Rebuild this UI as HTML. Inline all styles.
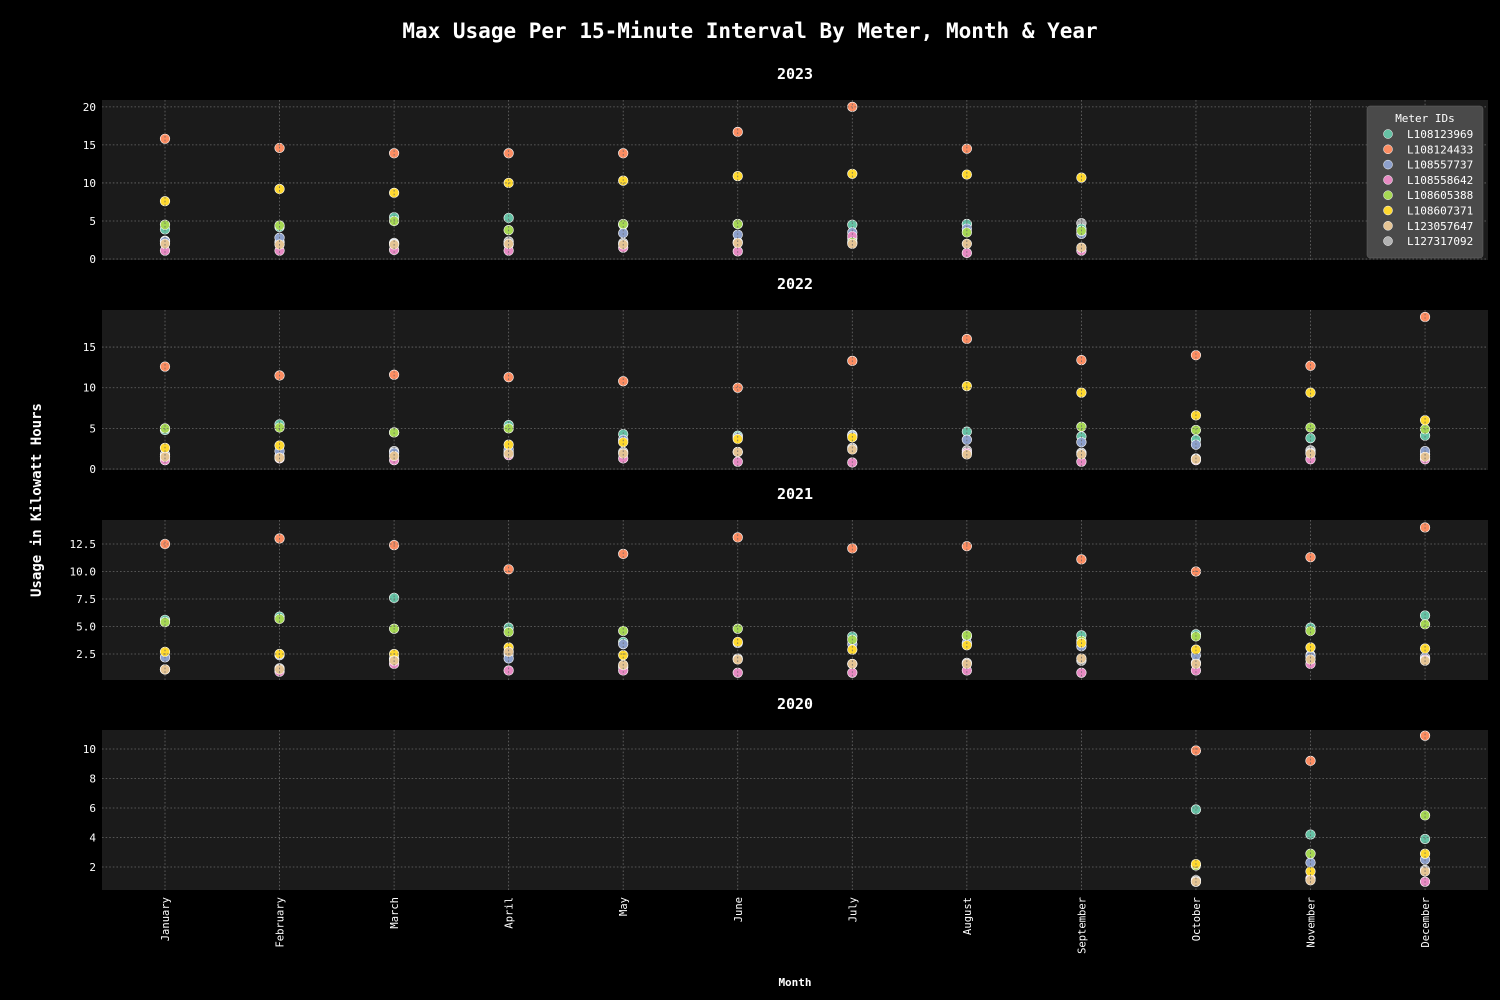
<!DOCTYPE html>
<html><head><meta charset="utf-8"><style>
html,body{margin:0;padding:0;background:#000;}
svg{display:block;font-family:"DejaVu Sans Mono","Liberation Mono",monospace;}
</style></head><body>
<svg id="chart" width="1500" height="1000" viewBox="0 0 1500 1000">
<rect width="1500" height="1000" fill="#000"/>
<text x="750" y="38" text-anchor="middle" fill="#fff" font-size="21" font-weight="bold">Max Usage Per 15-Minute Interval By Meter, Month &amp; Year</text>
<text transform="translate(41,500) rotate(-90)" text-anchor="middle" fill="#fff" font-size="14" font-weight="bold">Usage in Kilowatt Hours</text>
<text x="795" y="986" text-anchor="middle" fill="#fff" font-size="11" font-weight="bold">Month</text>
</svg>
<script>
const months=["January","February","March","April","May","June","July","August","September","October","November","December"];
const meters=["L108123969","L108124433","L108557737","L108558642","L108605388","L108607371","L123057647","L127317092"];
const colors=["#66c2a5","#fc8d62","#8da0cb","#e78ac3","#a6d854","#ffd92f","#e5c494","#b3b3b3"];
const N=null;
const y2023=[
 [3.9,4.2,5.5,5.4,4.5,4.6,4.5,4.6,4.0,N,N,N],
 [15.8,14.6,13.9,13.9,13.9,16.7,20,14.5,N,N,N,N],
 [2.3,2.8,2.0,1.9,3.4,3.2,3.5,4.0,3.3,N,N,N],
 [1.1,1.1,1.2,1.1,1.5,1.0,3.0,0.8,1.1,N,N,N],
 [4.5,4.4,5.0,3.8,4.6,4.6,2.2,3.5,3.7,N,N,N],
 [7.6,9.2,8.7,10,10.3,10.9,11.2,11.1,10.7,N,N,N],
 [2.0,1.9,1.9,2.0,1.9,2.1,2.0,2.0,1.5,N,N,N],
 [2.4,2.2,2.1,2.3,2.1,2.2,2.7,4.6,4.7,N,N,N]];
const y2022=[
 [4.8,5.5,4.5,5.4,4.3,4.1,4.2,4.6,4.0,3.6,3.8,4.1],
 [12.6,11.5,11.6,11.3,10.8,10,13.3,16,13.4,14,12.7,18.7],
 [1.5,2.2,2.0,2.4,3.6,3.9,4.1,3.6,3.3,3.0,2.0,2.2],
 [1.1,1.3,1.1,1.7,1.3,0.9,0.8,2.0,0.9,1.1,1.2,1.2],
 [5.0,5.1,4.5,5.0,N,N,N,N,5.2,4.8,5.1,4.9],
 [2.6,2.9,N,3.0,3.3,3.7,3.9,10.2,9.4,6.6,9.4,6.0],
 [1.5,1.4,1.6,1.9,1.9,2.1,2.4,1.8,1.8,1.2,1.9,1.5],
 [1.8,1.6,2.2,2.1,2.1,2.1,2.6,2.3,2.0,1.3,2.3,1.8]];
const y2021=[
 [5.6,5.9,7.6,4.9,3.6,N,4.1,4.1,4.2,4.3,4.9,6.0],
 [12.5,13.0,12.4,10.2,11.6,13.1,12.1,12.3,11.1,10.0,11.3,14.0],
 [2.2,2.4,2.1,2.1,3.4,3.5,3.4,3.5,3.2,2.4,2.3,2.2],
 [1.1,0.9,1.6,1.0,1.0,0.8,0.8,1.0,0.8,1.0,1.6,2.0],
 [5.4,5.7,4.8,4.5,4.6,4.8,3.8,4.2,3.7,4.1,4.6,5.2],
 [2.7,2.5,2.5,3.1,2.4,3.6,2.9,3.3,3.5,2.9,3.1,3.0],
 [1.1,1.1,1.9,2.7,1.5,2.0,1.6,1.6,2.1,1.6,2.0,1.9],
 [1.1,1.2,2.0,2.5,1.3,2.1,1.6,1.7,1.9,1.7,2.4,2.1]];
const y2020=[
 [N,N,N,N,N,N,N,N,N,5.9,4.2,3.9],
 [N,N,N,N,N,N,N,N,N,9.9,9.2,10.9],
 [N,N,N,N,N,N,N,N,N,2.1,2.3,2.5],
 [N,N,N,N,N,N,N,N,N,1.0,1.2,1.0],
 [N,N,N,N,N,N,N,N,N,2.1,2.9,5.5],
 [N,N,N,N,N,N,N,N,N,2.2,1.7,2.9],
 [N,N,N,N,N,N,N,N,N,1.0,1.1,1.7],
 [N,N,N,N,N,N,N,N,N,1.1,1.2,1.8]];
const years=["2023","2022","2021","2020"];
const ticks2023=[0,5,10,15,20];
const ticks2022=[0,5,10,15];
const ticks2021=[2.5,5.0,7.5,10.0,12.5];
const ticks2020=[2,4,6,8,10];

const svg=document.getElementById('chart');
const NS="http://www.w3.org/2000/svg";
function mk(tag,attrs,parent){const e=document.createElementNS(NS,tag);for(const k in attrs)e.setAttribute(k,attrs[k]);(parent||svg).appendChild(e);return e;}
const L=102,R=1488;
function xScale(i){return 165+i*114.55;}
const panels=[
 {year:years[0],data:y2023,ticks:ticks2023,top:100,min:-0.13,max:20.9,fmt:v=>String(v)},
 {year:years[1],data:y2022,ticks:ticks2022,top:310,min:-0.12,max:19.56,fmt:v=>String(v)},
 {year:years[2],data:y2021,ticks:ticks2021,top:520,min:0.14,max:14.68,fmt:v=>v.toFixed(1)},
 {year:years[3],data:y2020,ticks:ticks2020,top:730,min:0.44,max:11.29,fmt:v=>String(v)}];
const H=160;
const drawOrder=[7,0,1,2,3,4,5,6];
panels.forEach(p=>{
 const g=mk('g',{});
 
 
 const yS=v=>p.top+H-(v-p.min)/(p.max-p.min)*H;
 const bg=mk('rect',{x:L,y:p.top,width:R-L,height:H,fill:'#1b1b1b'},g);
 
 
 const t=mk('text',{x:795,y:p.top-21,'text-anchor':'middle',fill:'#fff','font-size':15,'font-weight':'bold'},g);
 t.textContent=p.year;
 
 
 drawOrder.forEach(s=>{
  const series=p.data[s];
  series.forEach((v,i)=>{
   if(v===null)return;
   const c=mk('circle',{cx:xScale(i),cy:yS(v),r:4.8,fill:colors[s],stroke:'#fff','stroke-width':0.6},g);
   
   
  });
 });
 months.forEach((m,i)=>{
  const ln=mk('line',{x1:xScale(i),x2:xScale(i),y1:p.top,y2:p.top+H,stroke:'#6a6a6a','stroke-width':0.8,'stroke-dasharray':'1.6,2'},g);
  
  
 });
 p.ticks.forEach(v=>{
  const y=yS(v);
  const ln=mk('line',{x1:L,x2:R,y1:y,y2:y,stroke:'#6a6a6a','stroke-width':0.8,'stroke-dasharray':'1.6,2'},g);
  
  
  const tl=mk('text',{x:96,y:y+4,'text-anchor':'end',fill:'#fff','font-size':11},g);
  tl.textContent=p.fmt(v);
  
  
 });
});
months.forEach((m,i)=>{
 const t=mk('text',{transform:'translate('+(xScale(i)+4)+',897) rotate(-90)','text-anchor':'end',fill:'#fff','font-size':10.5});
 t.textContent=m;
 
 
});
const lg=mk('g',{});


mk('rect',{x:1367,y:106,width:116,height:152,rx:3,fill:'#4a4a4a',stroke:'#666','stroke-width':0.5},lg);
const lt=mk('text',{x:1425,y:122,'text-anchor':'middle',fill:'#fff','font-size':11},lg);
lt.textContent='Meter IDs';
meters.forEach((m,i)=>{
 const y=134+i*15.3;
 const c=mk('circle',{cx:1388,cy:y,r:4.5,fill:colors[i],stroke:'#fff','stroke-width':0.5},lg);
 
 
 const t=mk('text',{x:1407,y:y+4,fill:'#fff','font-size':11},lg);
 t.textContent=m;
 
 
});
</script>
</body></html>
